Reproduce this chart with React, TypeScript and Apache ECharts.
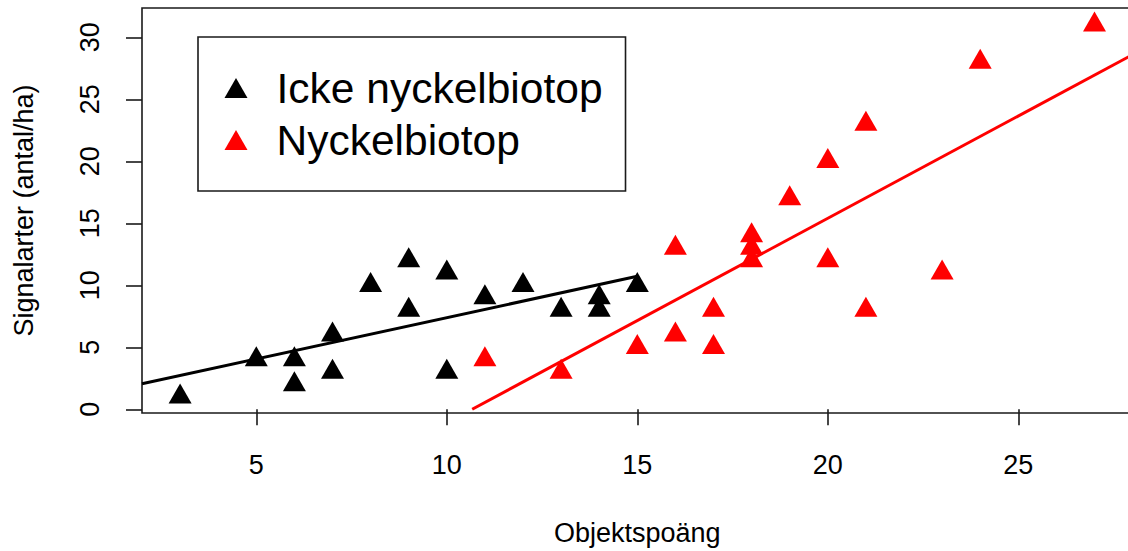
import { useEffect, useRef } from "react";
import * as echarts from "echarts";

// Axis ticks
const xTicks = [5, 10, 15, 20, 25];
const yTicks = [0, 5, 10, 15, 20, 25, 30];

// Icke nyckelbiotop (objektspoäng, signalarter per ha)
const ickeX = [3, 5, 6, 6, 7, 7, 8, 9, 9, 10, 10, 11, 12, 13, 14, 14, 15];
const ickeY = [1, 4, 4, 2, 6, 3, 10, 12, 8, 11, 3, 9, 10, 8, 9, 8, 10];

// Nyckelbiotop
const nyckelX = [11, 13, 15, 16, 16, 17, 17, 18, 18, 18, 19, 20, 20, 21, 21, 23, 24, 27];
const nyckelY = [4, 3, 5, 13, 6, 8, 5, 14, 13, 12, 17, 20, 12, 23, 8, 11, 28, 31];

// Linear trend lines: [intercept, slope]
const ickeFit = [0.72, 0.667];
const nyckelFit = [-17.6, 1.65];

// Axis ranges
const X_MIN = 2;
const X_MAX = 28;
const Y_MIN = -0.3;
const Y_MAX = 32.36;

const FONT = "'Liberation Sans', Arial, Helvetica, sans-serif";
const SYMBOL_SIZE = [23, 20];
// R's filled triangle sits on its centroid, not on the box centre
const SYMBOL_OFFSET = [0, -SYMBOL_SIZE[1] / 6];

const zip = (xs: number[], ys: number[]) => xs.map((x, i) => [x, ys[i]]);
const fitLine = (fit: number[], x0: number, x1: number) => [
  [x0, fit[0] + fit[1] * x0],
  [x1, fit[0] + fit[1] * x1],
];

export default function App() {
  const ref = useRef<HTMLDivElement>(null);

  useEffect(() => {
    if (!ref.current) return;
    const chart = echarts.init(ref.current, undefined, { renderer: "svg" });

    const ickeEnd = Math.max(...ickeX);
    const nyckelStart = -nyckelFit[0] / nyckelFit[1];

    chart.setOption({
      animation: false,
      backgroundColor: "#ffffff",
      textStyle: { fontFamily: FONT },
      grid: {
        left: 142,
        top: 8,
        width: 990.6,
        height: 405,
        outerBoundsMode: "none",
        containLabel: false,
        show: true,
        borderColor: "#1a1a1a",
        borderWidth: 1.6,
        backgroundColor: "transparent",
      },
      legend: {
        orient: "vertical",
        left: 198,
        top: 37,
        padding: [29, 23, 29, 26.5],
        itemGap: 8,
        itemWidth: SYMBOL_SIZE[0],
        itemHeight: SYMBOL_SIZE[1],
        icon: "triangle",
        borderColor: "#1a1a1a",
        borderWidth: 1.6,
        borderRadius: 0,
        selectedMode: false,
        data: ["Icke nyckelbiotop", "Nyckelbiotop"],
        textStyle: {
          fontFamily: FONT,
          fontSize: 42.5,
          lineHeight: 44,
          color: "#000",
          padding: [0, 0, 0, 24],
        },
      },
      xAxis: {
        type: "value",
        min: X_MIN,
        max: X_MAX,
        name: "Objektspoäng",
        nameLocation: "middle",
        nameGap: 106.5,
        nameTextStyle: { fontFamily: FONT, fontSize: 27, color: "#000" },
        axisLine: { show: false },
        splitLine: { show: false },
        axisTick: {
          show: true,
          inside: false,
          length: 16,
          customValues: xTicks,
          lineStyle: { color: "#1a1a1a", width: 1.6 },
        },
        axisLabel: {
          customValues: xTicks,
          margin: 38.5,
          fontFamily: FONT,
          fontSize: 27,
          color: "#000",
        },
      },
      yAxis: {
        type: "value",
        min: Y_MIN,
        max: Y_MAX,
        name: "Signalarter (antal/ha)",
        nameLocation: "middle",
        nameGap: 105,
        nameTextStyle: { fontFamily: FONT, fontSize: 27, color: "#000" },
        axisLine: { show: false },
        splitLine: { show: false },
        axisTick: {
          show: true,
          inside: false,
          length: 16,
          customValues: yTicks,
          lineStyle: { color: "#1a1a1a", width: 1.6 },
        },
        axisLabel: {
          customValues: yTicks,
          rotate: 90,
          margin: 38.5,
          fontFamily: FONT,
          fontSize: 27,
          color: "#000",
        },
      },
      series: [
        {
          name: "Icke nyckelbiotop",
          type: "scatter",
          symbol: "triangle",
          symbolSize: SYMBOL_SIZE,
          symbolOffset: SYMBOL_OFFSET,
          itemStyle: { color: "#000000", opacity: 1 },
          data: zip(ickeX, ickeY),
          z: 2,
        },
        {
          name: "Nyckelbiotop",
          type: "scatter",
          symbol: "triangle",
          symbolSize: SYMBOL_SIZE,
          symbolOffset: SYMBOL_OFFSET,
          itemStyle: { color: "#ff0000", opacity: 1 },
          data: zip(nyckelX, nyckelY),
          z: 2,
        },
        {
          name: "Trend icke nyckelbiotop",
          type: "line",
          symbol: "none",
          silent: true,
          lineStyle: { color: "#000000", width: 3 },
          data: fitLine(ickeFit, X_MIN, ickeEnd),
          z: 3,
        },
        {
          name: "Trend nyckelbiotop",
          type: "line",
          symbol: "none",
          silent: true,
          lineStyle: { color: "#ff0000", width: 3 },
          data: fitLine(nyckelFit, nyckelStart, X_MAX),
          z: 3,
        },
      ],
    });

    return () => chart.dispose();
  }, []);

  return (
    <div
      ref={ref}
      style={{
        position: "fixed",
        left: 0,
        top: 0,
        width: 1128,
        height: 551,
        background: "#ffffff",
      }}
    />
  );
}
